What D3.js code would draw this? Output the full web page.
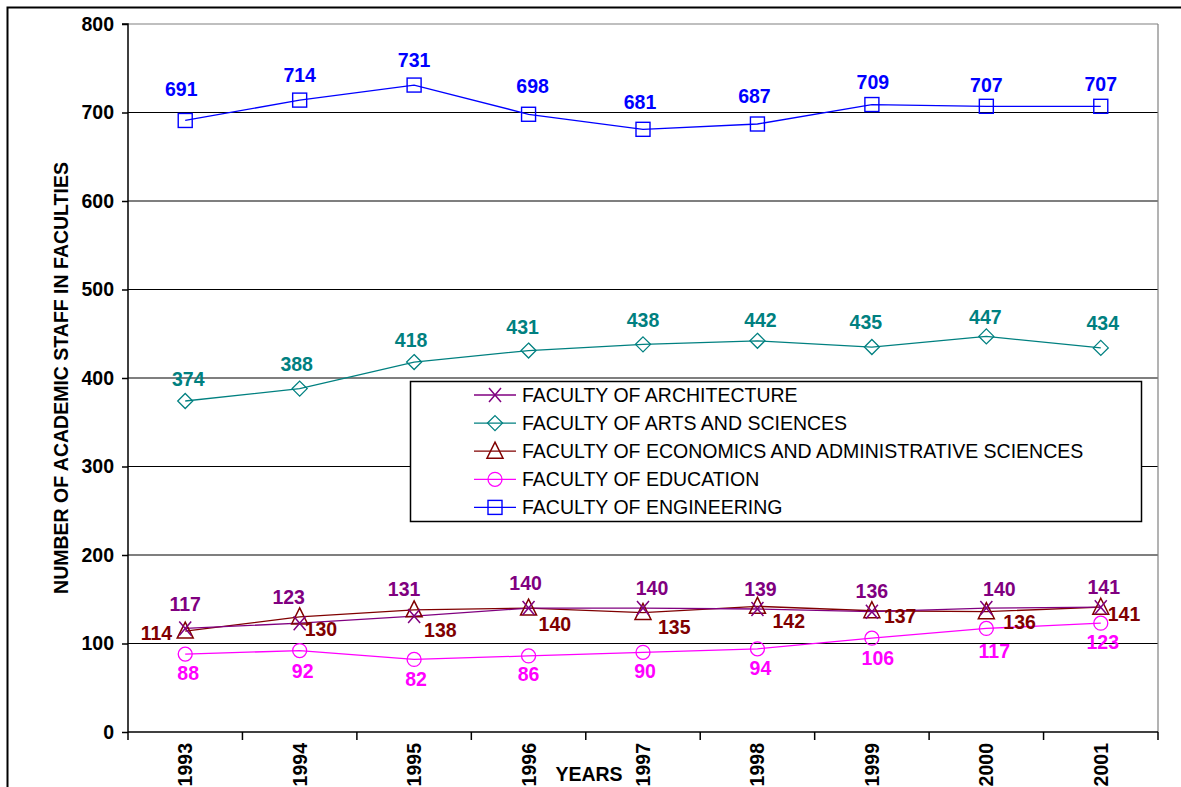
<!DOCTYPE html>
<html><head><meta charset="utf-8">
<script src="https://cdn.jsdelivr.net/npm/d3@7"></script>
<style>body{margin:0;background:#fff}svg{display:block;font-family:Arial,"Liberation Sans",sans-serif}</style>
</head><body><svg id="c" width="1181" height="787"></svg>
<script>
const years = ["1993","1994","1995","1996","1997","1998","1999","2000","2001"];
const yTicks = [0,100,200,300,400,500,600,700,800];
const seriesNames = ["FACULTY OF ARCHITECTURE","FACULTY OF ARTS AND SCIENCES","FACULTY OF ECONOMICS AND ADMINISTRATIVE SCIENCES","FACULTY OF EDUCATION","FACULTY OF ENGINEERING"];
const architecture = [117,123,131,140,140,139,136,140,141];
const arts = [374,388,418,431,438,442,435,447,434];
const economics = [114,130,138,140,135,142,137,136,141];
const education = [88,92,82,86,90,94,106,117,123];
const engineering = [691,714,731,698,681,687,709,707,707];

// label placement (pixel offsets from each point: [dx, dy to baseline])
const offArch = [[0,-17],[-11,-19],[-10,-20],[-3,-18],[9,-13],[3,-13],[0,-14],[13,-12],[3,-13]];
const offArts = [[3,-15],[-3,-18],[-3,-15],[-6,-17],[0,-17],[3,-14],[-6,-18],[-1,-12],[2,-18]];
const offEcon = [[-13,9],[5,19],[10,27],[10,23],[15,21],[15,22],[12,12],[17,17],[7,14]];
const offEdu  = [[3,26],[3,27],[2,27],[0,25],[2,26],[3,26],[6,27],[8,30],[2,26]];
const offEng  = [[-4,-24],[0,-18],[0,-18],[4,-21],[-3,-20],[-3,-21],[1,-16],[0,-14],[0,-15]];

const FS = 19.5;
const svg = d3.select("#c");
const L=128, R=1158, T=24, B=732;
const x = d3.scaleBand().domain(years).range([L,R]);
const y = d3.scaleLinear().domain([0,800]).range([B,T]);

svg.append("rect").attr("x",7.5).attr("y",7.5).attr("width",1200).attr("height",800).attr("fill","none").attr("stroke","#000").attr("stroke-width",2);

// gridlines
svg.append("g").selectAll("line").data(yTicks.filter(d=>d>0)).join("line")
  .attr("x1",L).attr("x2",R).attr("y1",d=>y(d)).attr("y2",d=>y(d))
  .attr("stroke",d=>d===800?"#808080":"#000").attr("stroke-width",1.2);
svg.append("line").attr("x1",R).attr("x2",R).attr("y1",T).attr("y2",B).attr("stroke","#808080").attr("stroke-width",1.2);

// axes
const ya = svg.append("g").attr("transform",`translate(${L},0)`).call(d3.axisLeft(y).tickValues(yTicks).tickSize(6).tickPadding(8));
ya.selectAll("text").attr("font-size",FS).attr("font-weight","bold").attr("fill","#000").attr("font-family","Arial, Liberation Sans, sans-serif");
ya.select(".domain").attr("stroke","#000").attr("stroke-width",1.5).attr("d",`M-6,${T}H0V${B}`);
ya.selectAll(".tick line").attr("stroke","#000").attr("stroke-width",1.5);

const xa = svg.append("g").attr("transform",`translate(0,${B})`).call(d3.axisBottom(x).tickSize(0));
xa.select(".domain").attr("stroke","#000").attr("stroke-width",1.5).attr("d",`M${L},0H${R}`);
xa.selectAll("text").attr("font-size",FS).attr("font-weight","bold").attr("fill","#000").attr("font-family","Arial, Liberation Sans, sans-serif")
  .attr("transform","rotate(-90)").attr("text-anchor","end").attr("dx","-11").attr("dy","0.36em").attr("y",0).attr("x",0);
const bounds = years.map(d=>x(d)).concat([R]);
svg.append("g").selectAll("line").data(bounds).join("line")
  .attr("x1",d=>d).attr("x2",d=>d).attr("y1",B).attr("y2",B+8).attr("stroke","#000").attr("stroke-width",1.5);

svg.append("text").attr("x",589).attr("y",781).attr("text-anchor","middle").attr("font-size",FS).attr("font-weight","bold").text("YEARS");
svg.append("text").attr("transform","translate(68,378) rotate(-90)").attr("text-anchor","middle").attr("font-size",FS).attr("font-weight","bold").text("NUMBER OF ACADEMIC STAFF IN FACULTIES");

const cx = d=>x(d)+x.bandwidth()/2;
const series = [
  {name:seriesNames[0], vals:architecture, color:"#800080", marker:"x", off:offArch, anchor:i=>"middle"},
  {name:seriesNames[1], vals:arts, color:"#008080", marker:"diamond", off:offArts, anchor:i=>"middle"},
  {name:seriesNames[2], vals:economics, color:"#800000", marker:"triangle", off:offEcon, anchor:i=>i===0?"end":"start"},
  {name:seriesNames[3], vals:education, color:"#FF00FF", marker:"circle", off:offEdu, anchor:i=>"middle"},
  {name:seriesNames[4], vals:engineering, color:"#0000FF", marker:"square", off:offEng, anchor:i=>"middle"}
];

function drawMarker(g, type, color){
  if(type==="square") g.append("rect").attr("x",-7).attr("y",-7).attr("width",14).attr("height",14).attr("fill","none").attr("stroke",color).attr("stroke-width",1.4);
  else if(type==="circle") g.append("circle").attr("r",7).attr("fill","none").attr("stroke",color).attr("stroke-width",1.3);
  else if(type==="diamond") g.append("path").attr("d","M0,-7.5L7.5,0L0,7.5L-7.5,0Z").attr("fill","none").attr("stroke",color).attr("stroke-width",1.3);
  else if(type==="triangle") g.append("path").attr("d","M0,-9L8,7L-8,7Z").attr("fill","none").attr("stroke",color).attr("stroke-width",1.5);
  else if(type==="x") g.append("path").attr("d","M-6,-7L6,7M-6,7L6,-7").attr("fill","none").attr("stroke",color).attr("stroke-width",1.5);
}

const line = d3.line().x((d,i)=>cx(years[i])).y(d=>y(d));
const order = [4,1,3,2,0];
order.forEach(k=>{
  const s = series[k];
  svg.append("path").datum(s.vals).attr("d",line).attr("fill","none").attr("stroke",s.color).attr("stroke-width",1.3);
});
order.forEach(k=>{
  const s = series[k];
  s.vals.forEach((v,i)=>{
    const g = svg.append("g").attr("transform",`translate(${cx(years[i])},${y(v)})`);
    drawMarker(g,s.marker,s.color);
  });
});
order.forEach(k=>{
  const s = series[k];
  s.vals.forEach((v,i)=>{
    const p = s.off[i];
    svg.append("text").attr("x",cx(years[i])+p[0]).attr("y",y(v)+p[1]).attr("text-anchor",s.anchor(i))
      .attr("font-size",FS).attr("font-weight","bold").attr("fill",s.color).text(v);
  });
});

// legend
const lg = svg.append("g");
lg.append("rect").attr("x",410.5).attr("y",381.5).attr("width",731).attr("height",140).attr("fill","#fff").attr("stroke","#000").attr("stroke-width",1.5);
series.forEach((s,i)=>{
  const yy = 395 + i*28.1;
  lg.append("line").attr("x1",474).attr("x2",516).attr("y1",yy).attr("y2",yy).attr("stroke",s.color).attr("stroke-width",1.3);
  const g = lg.append("g").attr("transform",`translate(495,${yy})`);
  drawMarker(g,s.marker,s.color);
  lg.append("text").attr("x",522).attr("y",yy+7).attr("font-size",FS).attr("fill","#000").text(s.name);
});
</script></body></html>
